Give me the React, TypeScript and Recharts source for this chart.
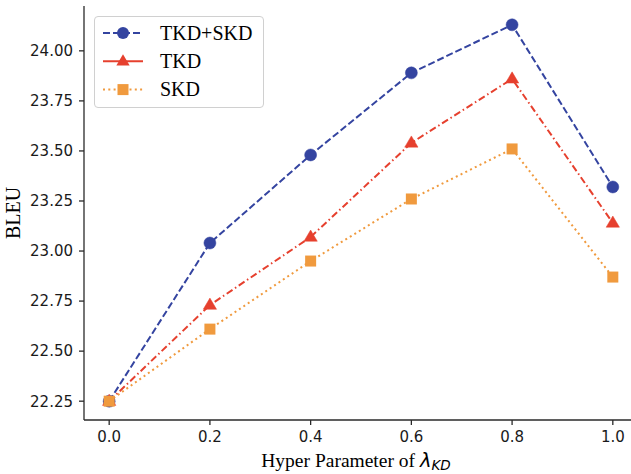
import React from "react";
import { LineChart, Line, XAxis, YAxis, Label } from "recharts";

const lambdas = [0, 0.2, 0.4, 0.6, 0.8, 1.0];
const tkdSkd = [22.25, 23.04, 23.48, 23.89, 24.13, 23.32];
const tkd = [22.25, 22.73, 23.07, 23.54, 23.86, 23.14];
const skd = [22.25, 22.61, 22.95, 23.26, 23.51, 22.87];
const xTicks = [0, 0.2, 0.4, 0.6, 0.8, 1.0];
const yTicks = [22.25, 22.5, 22.75, 23.0, 23.25, 23.5, 23.75, 24.0];

const BLUE = "#3444a0";
const RED = "#e6402e";
const ORANGE = "#f09a3e";

const data = lambdas.map((x, i) => ({ x, tkdSkd: tkdSkd[i], tkd: tkd[i], skd: skd[i] }));

const CircleDot = (props: any) => {
  const { cx, cy } = props;
  if (cx == null || cy == null) return null;
  return <circle cx={cx} cy={cy} r={6} fill={BLUE} stroke={BLUE} strokeWidth={0.5} />;
};
const TriDot = (props: any) => {
  const { cx, cy } = props;
  if (cx == null || cy == null) return null;
  const r = 7;
  return (
    <polygon
      points={`${cx},${cy - r} ${cx - r * 0.95},${cy + r * 0.6} ${cx + r * 0.95},${cy + r * 0.6}`}
      fill={RED}
      stroke={RED}
      strokeWidth={0.5}
    />
  );
};
const SquareDot = (props: any) => {
  const { cx, cy } = props;
  if (cx == null || cy == null) return null;
  const s = 11;
  return <rect x={cx - s / 2} y={cy - s / 2} width={s} height={s} fill={ORANGE} />;
};

const legendItems = [
  { name: "TKD+SKD", color: BLUE, dash: "7,3", marker: "circle" },
  { name: "TKD", color: RED, dash: "", marker: "tri" },
  { name: "SKD", color: ORANGE, dash: "2,3.3", marker: "square" },
];

const LegendBox = () => (
  <div
    style={{
      position: "absolute",
      left: 94,
      top: 16,
      width: 170,
      height: 92,
      border: "1.3px solid #d0d0d0",
      borderRadius: 4,
      background: "rgba(255,255,255,0.85)",
      boxSizing: "border-box",
    }}
  >
    <svg width={170} height={92} style={{ position: "absolute", left: -1, top: -1 }}>
      {legendItems.map((it, i) => {
        const y = 17 + i * 28.3;
        return (
          <g key={it.name}>
            <line x1={9} x2={49} y1={y} y2={y} stroke={it.color} strokeWidth={2} strokeDasharray={it.dash || undefined} />
            {it.marker === "circle" && <circle cx={29} cy={y} r={6} fill={it.color} />}
            {it.marker === "tri" && (
              <polygon points={`29,${y - 7} ${29 - 6.65},${y + 4.2} ${29 + 6.65},${y + 4.2}`} fill={it.color} />
            )}
            {it.marker === "square" && <rect x={23.5} y={y - 5.5} width={11} height={11} fill={it.color} />}
            <text
              x={66}
              y={y + 6.5}
              fontFamily="'Liberation Serif', 'Times New Roman', serif"
              fontSize={20}
              fill="#000"
            >
              {it.name}
            </text>
          </g>
        );
      })}
    </svg>
  </div>
);

const tickStyle = { fontFamily: "'DejaVu Sans', sans-serif", fontSize: 15, fill: "#1a1a1a" };

export default function App() {
  return (
    <div style={{ position: "absolute", left: 0, top: 0, width: 631, height: 474, overflow: "hidden", background: "#fff" }}>
      <LineChart width={640} height={474} data={data} margin={{ top: 6, right: 2, left: 0, bottom: 0 }}>
        <XAxis
          dataKey="x"
          type="number"
          domain={[-0.05, 1.05]}
          ticks={xTicks}
          allowDataOverflow
          tickFormatter={(v: number) => v.toFixed(1)}
          tick={tickStyle}
          tickSize={5}
          tickMargin={6}
          height={54}
          stroke="#2a2a2a"
          strokeWidth={1.3}
        >
          <Label
            content={() => (
              <text x={356} y={467} textAnchor="middle" fontFamily="'Liberation Serif', serif" fontSize={19.5} fill="#000">
                Hyper Parameter of{" "}
                <tspan fontFamily="'DejaVu Sans', sans-serif" fontStyle="italic">λ</tspan>
                <tspan fontFamily="'DejaVu Sans', sans-serif" fontStyle="italic" fontSize={13.5} dy={3}>KD</tspan>
              </text>
            )}
          />
        </XAxis>
        <XAxis
          xAxisId="top"
          orientation="top"
          type="number"
          dataKey="x"
          domain={[-0.05, 1.05]}
          tick={false}
          tickLine={false}
          height={0}
          stroke="#2a2a2a"
          strokeWidth={1.3}
        />
        <YAxis
          type="number"
          domain={[22.156, 24.224]}
          ticks={yTicks}
          allowDataOverflow
          tickFormatter={(v: number) => v.toFixed(2)}
          tick={tickStyle}
          tickSize={5}
          tickMargin={6}
          width={84}
          stroke="#2a2a2a"
          strokeWidth={1.3}
        >
          <Label
            content={() => (
              <text
                x={20}
                y={213}
                transform="rotate(-90, 20, 213)"
                textAnchor="middle"
                fontFamily="'Liberation Serif', serif"
                fontSize={20}
                fill="#000"
              >
                BLEU
              </text>
            )}
          />
        </YAxis>
        <Line
          dataKey="tkdSkd"
          name="TKD+SKD"
          stroke={BLUE}
          strokeWidth={2}
          strokeDasharray="7,3"
          dot={<CircleDot />}
          isAnimationActive={false}
        />
        <Line
          dataKey="tkd"
          name="TKD"
          stroke={RED}
          strokeWidth={2}
          strokeDasharray="7,3,1.5,3"
          dot={<TriDot />}
          isAnimationActive={false}
        />
        <Line
          dataKey="skd"
          name="SKD"
          stroke={ORANGE}
          strokeWidth={2}
          strokeDasharray="2,3.3"
          dot={<SquareDot />}
          isAnimationActive={false}
        />
      </LineChart>
      <LegendBox />
    </div>
  );
}
